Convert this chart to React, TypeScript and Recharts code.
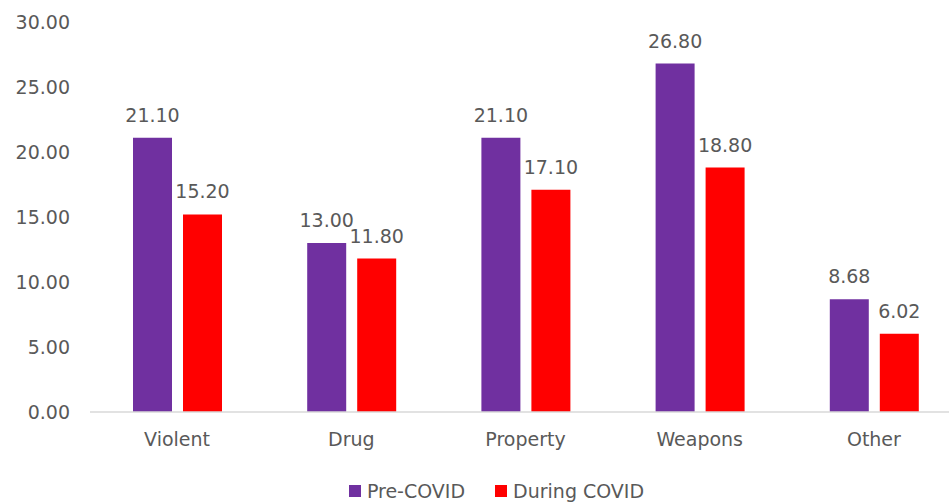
import React from "react";
import { BarChart, Bar, XAxis, YAxis, Legend, LabelList } from "recharts";

const categories = ["Violent", "Drug", "Property", "Weapons", "Other"];
const preCovid = [21.1, 13.0, 21.1, 26.8, 8.68];
const duringCovid = [15.2, 11.8, 17.1, 18.8, 6.02];
const yTicks = [0, 5, 10, 15, 20, 25, 30];

const seriesInfo = [
    { key: "pre", name: "Pre-COVID", color: "#7030A0" },
    { key: "during", name: "During COVID", color: "#FF0000" },
];

const TEXT = "#595959";
const FONT = "'DejaVu Sans', sans-serif";
const SIZE = 19;

const data = categories.map((name, i) => ({
    name,
    pre: preCovid[i],
    during: duringCovid[i],
}));

const fmt = (v: number) => Number(v).toFixed(2);

// legend kept in series order, centred a bit right of the chart middle
const SeriesLegend = () => (
    <div style={{ display: "flex", justifyContent: "center", paddingLeft: 32, paddingTop: 16, fontFamily: FONT, fontSize: SIZE, color: TEXT }}>
        {seriesInfo.map((s, i) => (
            <div key={s.key} style={{ display: "flex", alignItems: "center", marginLeft: i ? 30 : 0 }}>
                <span style={{ width: 12, height: 12, background: s.color, display: "inline-block", marginRight: 6 }} />
                <span>{s.name}</span>
            </div>
        ))}
    </div>
);

const App = () => {
    return (
        <div style={{ position: "absolute", left: 0, top: 0, width: 949, height: 502, background: "#fff", overflow: "hidden" }}>
            <BarChart
                width={949}
                height={502}
                data={data}
                margin={{ top: 22, right: -12, left: 0, bottom: 0 }}
                barSize={39}
                barGap={11}
            >
                <XAxis
                    dataKey="name"
                    axisLine={{ stroke: "#D9D9D9", strokeWidth: 1.5 }}
                    tickLine={false}
                    tickMargin={15}
                    height={52}
                    tick={{ fill: TEXT, fontSize: SIZE, fontFamily: FONT }}
                />
                <YAxis
                    domain={[0, 30]}
                    ticks={yTicks}
                    width={90}
                    axisLine={false}
                    tickLine={false}
                    tickMargin={14}
                    tickFormatter={fmt}
                    tick={{ fill: TEXT, fontSize: SIZE, fontFamily: FONT }}
                />
                <Legend verticalAlign="bottom" height={38} content={<SeriesLegend />} />
                {seriesInfo.map((s) => (
                    <Bar key={s.key} dataKey={s.key} name={s.name} fill={s.color} isAnimationActive={false}>
                        <LabelList dataKey={s.key} position="top" offset={16} formatter={fmt} fill={TEXT} fontSize={SIZE} fontFamily={FONT} />
                    </Bar>
                ))}
            </BarChart>
        </div>
    );
};

export default App;
